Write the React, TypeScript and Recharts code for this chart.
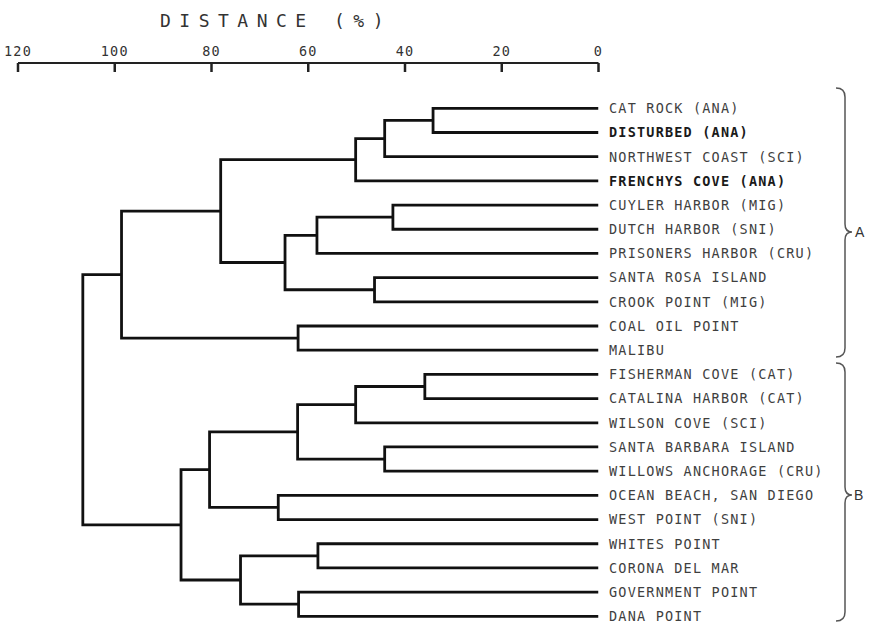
import { LineChart, Line, XAxis, YAxis } from "recharts";

const leafNames = [
  "CAT ROCK (ANA)",
  "DISTURBED (ANA)",
  "NORTHWEST COAST (SCI)",
  "FRENCHYS COVE (ANA)",
  "CUYLER HARBOR (MIG)",
  "DUTCH HARBOR (SNI)",
  "PRISONERS HARBOR (CRU)",
  "SANTA ROSA ISLAND",
  "CROOK POINT (MIG)",
  "COAL OIL POINT",
  "MALIBU",
  "FISHERMAN COVE (CAT)",
  "CATALINA HARBOR (CAT)",
  "WILSON COVE (SCI)",
  "SANTA BARBARA ISLAND",
  "WILLOWS ANCHORAGE (CRU)",
  "OCEAN BEACH, SAN DIEGO",
  "WEST POINT (SNI)",
  "WHITES POINT",
  "CORONA DEL MAR",
  "GOVERNMENT POINT",
  "DANA POINT",
];

// linkage table: node 22 + i joins mergeLeft[i] and mergeRight[i] at mergeHeight[i] (% distance)
const mergeLeft = [0, 22, 23, 4, 25, 7, 26, 24, 9, 29, 11, 32, 14, 33, 16, 35, 18, 20, 38, 37, 31];
const mergeRight = [1, 2, 3, 5, 6, 8, 27, 28, 10, 30, 12, 13, 15, 34, 17, 36, 19, 21, 39, 40, 41];
const mergeHeight = [
  34.2, 44.2, 50.2, 42.5, 58.2, 46.3, 64.8, 78.1, 62.1, 98.6,
  35.9, 50.2, 44.2, 62.2, 66.2, 80.4, 58.0, 62.0, 74.0, 86.3, 106.6,
];
const distanceTicks = [120, 100, 80, 60, 40, 20, 0];
const boldLeaves = ["DISTURBED (ANA)", "FRENCHYS COVE (ANA)"];

const n = leafNames.length;
const leafIdx = leafNames.map((_, i) => i);
const nodeY: number[] = leafNames.map((_, i) => i);
const nodeH: number[] = leafNames.map(() => 0);
const links = mergeHeight.map((h, i) => {
  const a = mergeLeft[i];
  const b = mergeRight[i];
  nodeY[n + i] = (nodeY[a] + nodeY[b]) / 2;
  nodeH[n + i] = h;
  return [
    { x: nodeH[a], y: nodeY[a] },
    { x: h, y: nodeY[a] },
    { x: h, y: nodeY[b] },
    { x: nodeH[b], y: nodeY[b] },
  ];
});

const mono = "'DejaVu Sans Mono', 'Liberation Mono', monospace";

const LeafTick = (props: any) => {
  const { x, y, payload } = props;
  const name = leafNames[payload.value];
  const bold = boldLeaves.includes(name);
  return (
    <text
      x={x}
      y={y}
      dy="0.36em"
      textAnchor="start"
      fontFamily={mono}
      fontSize={13.5}
      letterSpacing={1.2}
      fill={bold ? "#1a1a1a" : "#3f3f3f"}
      fontWeight={bold ? "bold" : "normal"}
    >
      {name}
    </text>
  );
};

// curly brace "}" from y0 to y1 with its point at tip
const brace = (x: number, y0: number, tip: number, y1: number) =>
  `M ${x - 9} ${y0} Q ${x} ${y0} ${x} ${y0 + 9} L ${x} ${tip - 8} Q ${x} ${tip} ${x + 7} ${tip} ` +
  `Q ${x} ${tip} ${x} ${tip + 8} L ${x} ${y1 - 9} Q ${x} ${y1} ${x - 9} ${y1}`;

export default function App() {
  return (
    <div style={{ position: "absolute", left: 0, top: 0, width: 872, height: 624, background: "#fff" }}>
      <LineChart width={872} height={624} margin={{ top: 23, right: 23.5, bottom: 4, left: 18 }}>
        <XAxis
          type="number"
          dataKey="x"
          domain={[0, 120]}
          reversed
          allowDataOverflow
          orientation="top"
          ticks={distanceTicks}
          interval={0}
          height={40}
          tickSize={-9}
          tickMargin={16}
          axisLine={{ stroke: "#222", strokeWidth: 2 }}
          tickLine={{ stroke: "#222", strokeWidth: 2.5 }}
          tick={{ fill: "#333", fontSize: 13.5, fontFamily: mono, letterSpacing: 1.2 }}
        />
        <YAxis
          type="number"
          orientation="right"
          domain={[-1.873, 21.153]}
          reversed
          allowDataOverflow
          ticks={leafIdx}
          interval={0}
          width={250}
          axisLine={false}
          tickLine={false}
          tickSize={0}
          tickMargin={10.5}
          tick={(p: any) => <LeafTick {...p} />}
        />
        {links.map((pts, i) => (
          <Line
            key={i}
            data={pts}
            dataKey="y"
            type="linear"
            stroke="#111"
            strokeWidth={2.8}
            strokeLinejoin="miter"
            dot={false}
            activeDot={false}
            isAnimationActive={false}
          />
        ))}
      </LineChart>
      <svg
        width={872}
        height={624}
        style={{ position: "absolute", left: 0, top: 0, pointerEvents: "none" }}
      >
        <text x={160} y={27} fontFamily={mono} fontSize={18} letterSpacing={8.5} fill="#333">
          DISTANCE (%)
        </text>
        <path d={brace(845, 88, 232, 357)} fill="none" stroke="#555" strokeWidth={1.5} />
        <path d={brace(845, 363, 495, 621)} fill="none" stroke="#555" strokeWidth={1.5} />
        <text x={855} y={237} fontFamily="'Liberation Sans', Arial, sans-serif" fontSize={14} fill="#333">
          A
        </text>
        <text x={854} y={500} fontFamily="'Liberation Sans', Arial, sans-serif" fontSize={14} fill="#333">
          B
        </text>
      </svg>
    </div>
  );
}
